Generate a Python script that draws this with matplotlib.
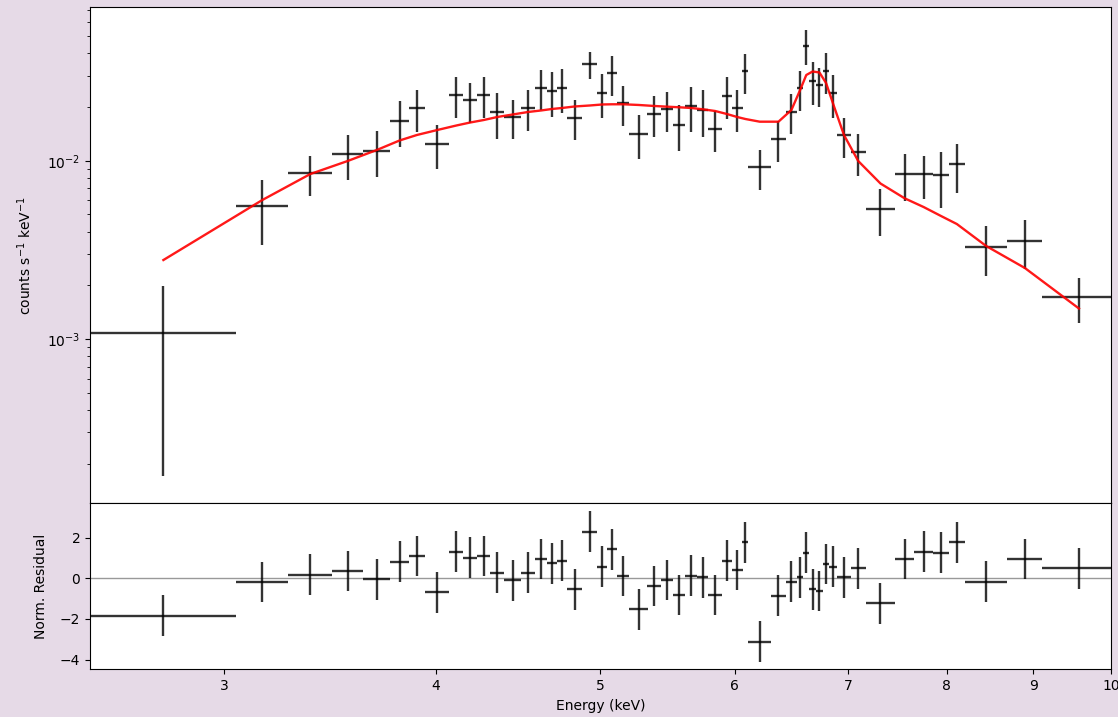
import matplotlib
matplotlib.use("Agg")
import matplotlib.pyplot as plt
from matplotlib import ticker

# Spectral bins: centre energy and half-width (keV)
energy = [2.762, 3.159, 3.372, 3.547, 3.690, 3.806, 3.897, 4.007, 4.112, 4.190,
          4.267, 4.346, 4.438, 4.532, 4.613, 4.681, 4.745, 4.827, 4.928, 5.013,
          5.080, 5.156, 5.265, 5.379, 5.475, 5.565, 5.656, 5.746, 5.842, 5.936,
          6.020, 6.088, 6.207, 6.367, 6.480, 6.557, 6.612, 6.669, 6.731, 6.792,
          6.858, 6.959, 7.095, 7.313, 7.557, 7.754, 7.940, 8.112, 8.442, 8.897,
          9.575]
energy_hw = [0.286, 0.111, 0.102, 0.074, 0.069, 0.048, 0.044, 0.066, 0.039, 0.039,
             0.039, 0.041, 0.051, 0.044, 0.037, 0.032, 0.033, 0.050, 0.051, 0.034,
             0.033, 0.044, 0.065, 0.050, 0.046, 0.045, 0.047, 0.043, 0.053, 0.041,
             0.044, 0.025, 0.095, 0.066, 0.047, 0.030, 0.026, 0.032, 0.031, 0.030,
             0.036, 0.065, 0.072, 0.147, 0.098, 0.100, 0.086, 0.086, 0.245, 0.210,
             0.469]

# Observed count rate (counts s^-1 keV^-1) and 1-sigma errors
rate = [1.08e-3, 5.58e-3, 8.50e-3, 1.09e-2, 1.14e-2, 1.68e-2, 1.975e-2, 1.24e-2, 2.33e-2, 2.18e-2,
        2.33e-2, 1.865e-2, 1.75e-2, 1.98e-2, 2.565e-2, 2.455e-2, 2.56e-2, 1.745e-2, 3.48e-2, 2.40e-2,
        3.10e-2, 2.10e-2, 1.42e-2, 1.83e-2, 1.94e-2, 1.59e-2, 2.02e-2, 1.93e-2, 1.51e-2, 2.32e-2,
        1.975e-2, 3.17e-2, 9.17e-3, 1.32e-2, 1.88e-2, 2.55e-2, 4.42e-2, 2.80e-2, 2.67e-2, 3.185e-2,
        2.39e-2, 1.385e-2, 1.112e-2, 5.36e-3, 8.45e-3, 8.38e-3, 8.30e-3, 9.53e-3, 3.29e-3, 3.56e-3,
        1.723e-3]
rate_err = [0.91e-3, 2.23e-3, 2.16e-3, 3.10e-3, 3.27e-3, 4.94e-3, 5.22e-3, 3.39e-3, 6.04e-3, 5.48e-3,
            6.00e-3, 5.39e-3, 4.32e-3, 5.12e-3, 6.50e-3, 6.96e-3, 7.00e-3, 4.32e-3, 6.08e-3, 6.61e-3,
            7.80e-3, 5.35e-3, 3.95e-3, 4.77e-3, 4.97e-3, 4.58e-3, 5.79e-3, 5.70e-3, 3.84e-3, 6.11e-3,
            5.25e-3, 8.19e-3, 2.32e-3, 3.40e-3, 4.71e-3, 6.45e-3, 1.00e-2, 7.59e-3, 6.57e-3, 8.19e-3,
            6.48e-3, 3.51e-3, 2.96e-3, 1.56e-3, 2.47e-3, 2.30e-3, 2.84e-3, 2.90e-3, 1.02e-3, 1.08e-3,
            0.486e-3]

# Folded model evaluated at each bin
model = [2.774e-3, 6.020e-3, 8.424e-3, 9.961e-3, 1.148e-2, 1.298e-2, 1.394e-2, 1.487e-2, 1.576e-2, 1.638e-2,
         1.691e-2, 1.758e-2, 1.816e-2, 1.876e-2, 1.913e-2, 1.950e-2, 1.975e-2, 2.014e-2, 2.040e-2, 2.067e-2,
         2.072e-2, 2.072e-2, 2.054e-2, 2.027e-2, 2.009e-2, 1.993e-2, 1.975e-2, 1.942e-2, 1.900e-2, 1.828e-2,
         1.758e-2, 1.713e-2, 1.655e-2, 1.655e-2, 1.925e-2, 2.492e-2, 3.024e-2, 3.164e-2, 3.124e-2, 2.728e-2,
         2.080e-2, 1.394e-2, 9.961e-3, 7.449e-3, 6.153e-3, 5.499e-3, 4.895e-3, 4.415e-3, 3.323e-3, 2.502e-3,
         1.483e-3]

# Normalised residuals (data - model) / error
residual = [-1.84, -0.18, 0.18, 0.35, -0.05, 0.81, 1.10, -0.70, 1.31, 1.02,
            1.10, 0.28, -0.10, 0.28, 0.95, 0.74, 0.87, -0.54, 2.30, 0.57,
            1.43, 0.11, -1.53, -0.38, -0.08, -0.82, 0.13, 0.05, -0.82, 0.87,
            0.41, 1.77, -3.12, -0.86, -0.17, 0.05, 1.26, -0.54, -0.63, 0.70,
            0.57, 0.05, 0.49, -1.23, 0.94, 1.31, 1.26, 1.77, -0.17, 0.94,
            0.49]
residual_err = 1.0

energy_ticks = [3, 4, 5, 6, 7, 8, 9, 10]

bg = "#e6dae7"
fig = plt.figure(figsize=(11.18, 7.17), dpi=100, facecolor=bg)
ax = fig.add_axes([0.0805, 0.2981, 0.9132, 0.6922])
axr = fig.add_axes([0.0805, 0.0665, 0.9132, 0.2316], sharex=ax)

eb_style = dict(fmt="none", ecolor="k", elinewidth=1.7, alpha=0.8, capsize=0)

ax.errorbar(energy, rate, xerr=energy_hw, yerr=rate_err, **eb_style)
ax.plot(energy, model, color="red", lw=1.7, alpha=0.9)
ax.set_xscale("log")
ax.set_yscale("log")
ax.set_xlim(2.5, 10.0)
ax.set_ylim(1.2e-4, 0.0728)
ax.set_ylabel(r"counts s$^{-1}$ keV$^{-1}$", labelpad=9.5)
ax.tick_params(axis="x", which="both", bottom=False, labelbottom=False)

axr.errorbar(energy, residual, xerr=energy_hw, yerr=residual_err, **eb_style)
axr.axhline(0, color="gray", lw=1, alpha=0.8, zorder=0)
axr.set_ylim(-4.48, 3.69)
axr.set_ylabel("Norm. Residual", labelpad=8.5)
axr.set_xlabel("Energy (keV)")
axr.xaxis.set_major_locator(ticker.FixedLocator(energy_ticks))
axr.xaxis.set_minor_locator(ticker.NullLocator())
axr.xaxis.set_major_formatter(ticker.FuncFormatter(lambda v, p: f"{v:g}"))
axr.yaxis.set_major_locator(ticker.MultipleLocator(2))

fig.savefig("out.png", dpi=100, facecolor=bg)
